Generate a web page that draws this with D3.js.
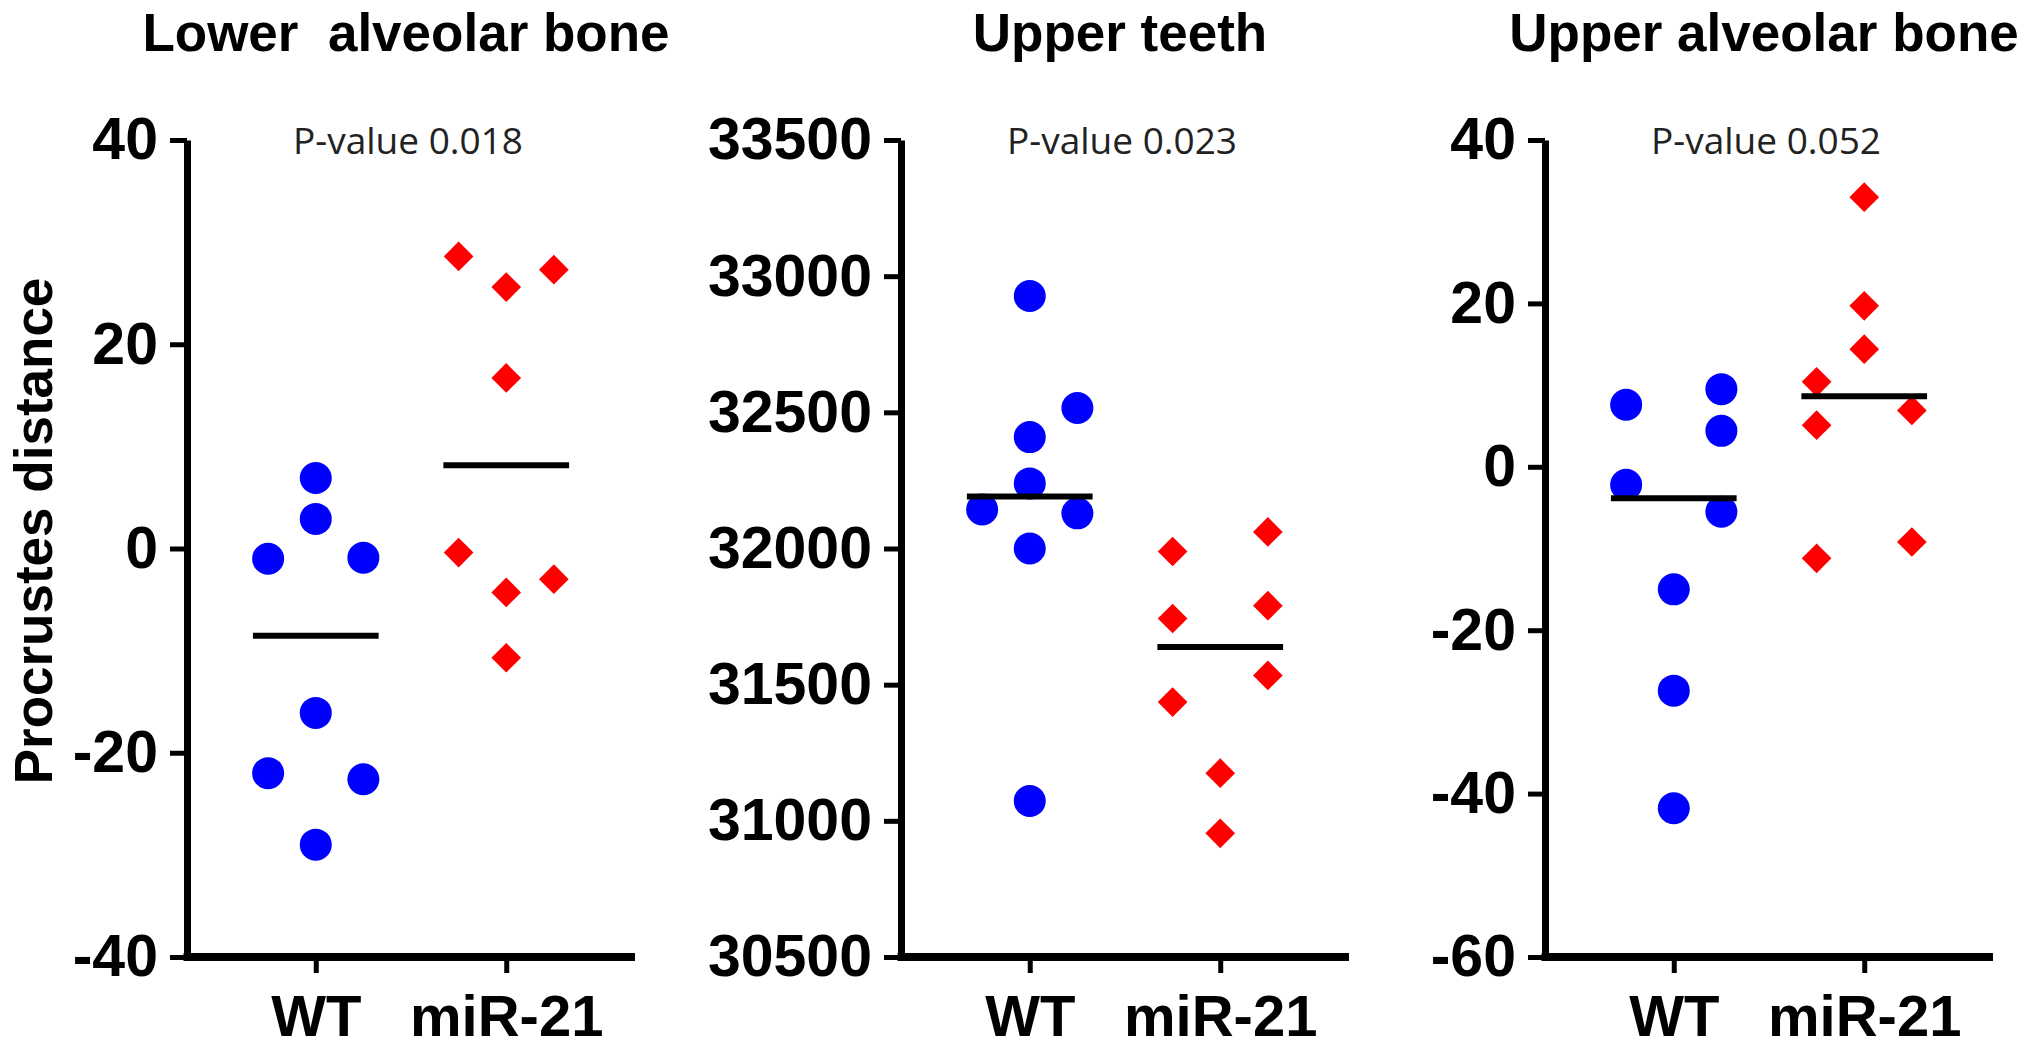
<!DOCTYPE html>
<html>
<head>
<meta charset="utf-8">
<script src="https://cdn.jsdelivr.net/npm/d3@7"></script>
<style>
    body { margin: 0; background: #fff; }
</style>
</head>
<body>
<div id="vis"></div>
<script>
const groups = ["WT", "miR-21"];
const titles = ["Lower  alveolar bone", "Upper teeth", "Upper alveolar bone"];
const pValues = ["P-value 0.018", "P-value 0.023", "P-value 0.052"];
const yLabel = "Procrustes distance";

// values, one array per group
const lowerBoneWT = [6.9, 2.9, -1.0, -0.9, -16.1, -22.0, -22.6, -29.0];
const lowerBoneMiR = [28.6, 25.6, 27.3, 16.7, -0.4, -4.3, -3.0, -10.7];
const upperTeethWT = [32927, 32516, 32409, 32239, 32143, 32129, 32000, 31073];
const upperTeethMiR = [32061, 31989, 31790, 31743, 31534, 31436, 31175, 30954];
const upperBoneWT = [9.5, 7.6, 4.4, -2.2, -5.5, -15.0, -27.4, -41.8];
const upperBoneMiR = [33.0, 19.7, 14.4, 10.4, 6.9, 5.1, -9.2, -11.2];

// which column of the scatter each point sits in (-1 left, 0 middle, 1 right)
const lowerBoneWTCol = [0, 0, -1, 1, 0, -1, 1, 0];
const lowerBoneMiRCol = [-1, 0, 1, 0, -1, 0, 1, 0];
const upperTeethWTCol = [0, 1, 0, 0, -1, 1, 0, 0];
const upperTeethMiRCol = [1, -1, 1, -1, 1, -1, 0, 0];
const upperBoneWTCol = [1, -1, 1, -1, 1, 0, 0, 0];
const upperBoneMiRCol = [0, 0, 0, -1, 1, -1, 1, -1];

const lowerBoneTicks = [-40, -20, 0, 20, 40];
const upperTeethTicks = [30500, 31000, 31500, 32000, 32500, 33000, 33500];
const upperBoneTicks = [-60, -40, -20, 0, 20, 40];

const width = 2031;
const height = 1051;
const blue = "#0000ff";
const red = "#ff0000";
const black = "#000";

const panelLeft = [187, 901, 1545];
const plotWidth = 448;
const plotTop = 140;
const plotBottom = 957;

const panels = [
    { title: titles[0], p: pValues[0], ticks: lowerBoneTicks, values: [lowerBoneWT, lowerBoneMiR], cols: [lowerBoneWTCol, lowerBoneMiRCol] },
    { title: titles[1], p: pValues[1], ticks: upperTeethTicks, values: [upperTeethWT, upperTeethMiR], cols: [upperTeethWTCol, upperTeethMiRCol] },
    { title: titles[2], p: pValues[2], ticks: upperBoneTicks, values: [upperBoneWT, upperBoneMiR], cols: [upperBoneWTCol, upperBoneMiRCol] }
];

const svg = d3.select("#vis")
    .append("svg")
    .attr("width", width)
    .attr("height", height)
    .attr("viewBox", `0 0 ${width} ${height}`)
    .style("background", "#fff");

svg.append("text")
    .attr("transform", `translate(52, 531) rotate(-90)`)
    .attr("text-anchor", "middle")
    .style("font-family", "Liberation Sans, Arial, sans-serif")
    .style("font-weight", 700)
    .style("font-size", "53px")
    .style("fill", black)
    .text(yLabel);

panels.forEach((panel, k) => {
    const g = svg.append("g")
        .attr("transform", `translate(${panelLeft[k]}, 0)`);

    const y = d3.scaleLinear()
        .domain(d3.extent(panel.ticks))
        .range([plotBottom, plotTop]);

    const x = d3.scalePoint()
        .domain(groups)
        .range([0, plotWidth])
        .padding(0.676);

    const step = x.step();

    // title + p-value
    g.append("text")
        .attr("x", plotWidth / 2 - 5)
        .attr("y", 51)
        .attr("text-anchor", "middle")
        .style("white-space", "pre")
        .style("font-family", "Liberation Sans, Arial, sans-serif")
        .style("font-weight", 700)
        .style("font-size", "53px")
        .style("fill", black)
        .text(panel.title);

    g.append("text")
        .attr("x", plotWidth / 2 - 3)
        .attr("y", 154)
        .attr("text-anchor", "middle")
        .style("font-family", "Open Sans, sans-serif")
        .style("font-size", "37px")
        .style("fill", "#222")
        .text(panel.p);

    // axes (plain hyphen for negatives, like the original)
    const yAxis = g.append("g")
        .call(d3.axisLeft(y)
            .tickValues(panel.ticks)
            .tickFormat(d => String(d))
            .tickSize(17)
            .tickSizeOuter(0)
            .tickPadding(12));

    const xAxis = g.append("g")
        .attr("transform", `translate(0, ${plotBottom})`)
        .call(d3.axisBottom(x)
            .tickSize(16)
            .tickSizeOuter(0)
            .tickPadding(22));

    [yAxis, xAxis].forEach(ax => {
        ax.select(".domain").attr("stroke", black).attr("stroke-width", 7);
        ax.selectAll(".tick line").attr("stroke", black).attr("stroke-width", 5);
        ax.selectAll(".tick text")
            .style("font-family", "Liberation Sans, Arial, sans-serif")
            .style("font-weight", 700)
            .style("fill", black);
    });
    yAxis.selectAll(".tick text").style("font-size", "59px");
    xAxis.selectAll(".tick text").style("font-size", "58px");
    xAxis.select(".domain").attr("d", `M-3.5,0H${plotWidth}`).attr("stroke-width", 8);

    // points
    const pts = groups.flatMap((grp, gi) => panel.values[gi].map((v, i) => ({
        group: grp,
        value: v,
        col: panel.cols[gi][i]
    })));

    g.selectAll(".dot")
        .data(pts.filter(d => d.group === "WT"))
        .join("circle")
            .attr("class", "dot")
            .attr("cx", d => x(d.group) + d.col * step * 0.25)
            .attr("cy", d => y(d.value))
            .attr("r", 16)
            .style("fill", blue);

    g.selectAll(".diamond")
        .data(pts.filter(d => d.group === "miR-21"))
        .join("path")
            .attr("class", "diamond")
            .attr("d", d3.symbol(d3.symbolSquare, 440))
            .attr("transform", d => `translate(${x(d.group) + d.col * step * 0.25}, ${y(d.value)}) rotate(45)`)
            .style("fill", red);

    // median lines
    g.selectAll(".median")
        .data(groups.map((grp, gi) => ({ group: grp, m: d3.median(panel.values[gi]) })))
        .join("line")
            .attr("class", "median")
            .attr("x1", d => x(d.group) - step * 0.33)
            .attr("x2", d => x(d.group) + step * 0.33)
            .attr("y1", d => y(d.m))
            .attr("y2", d => y(d.m))
            .attr("stroke", black)
            .attr("stroke-width", 6);
});
</script>
</body>
</html>
